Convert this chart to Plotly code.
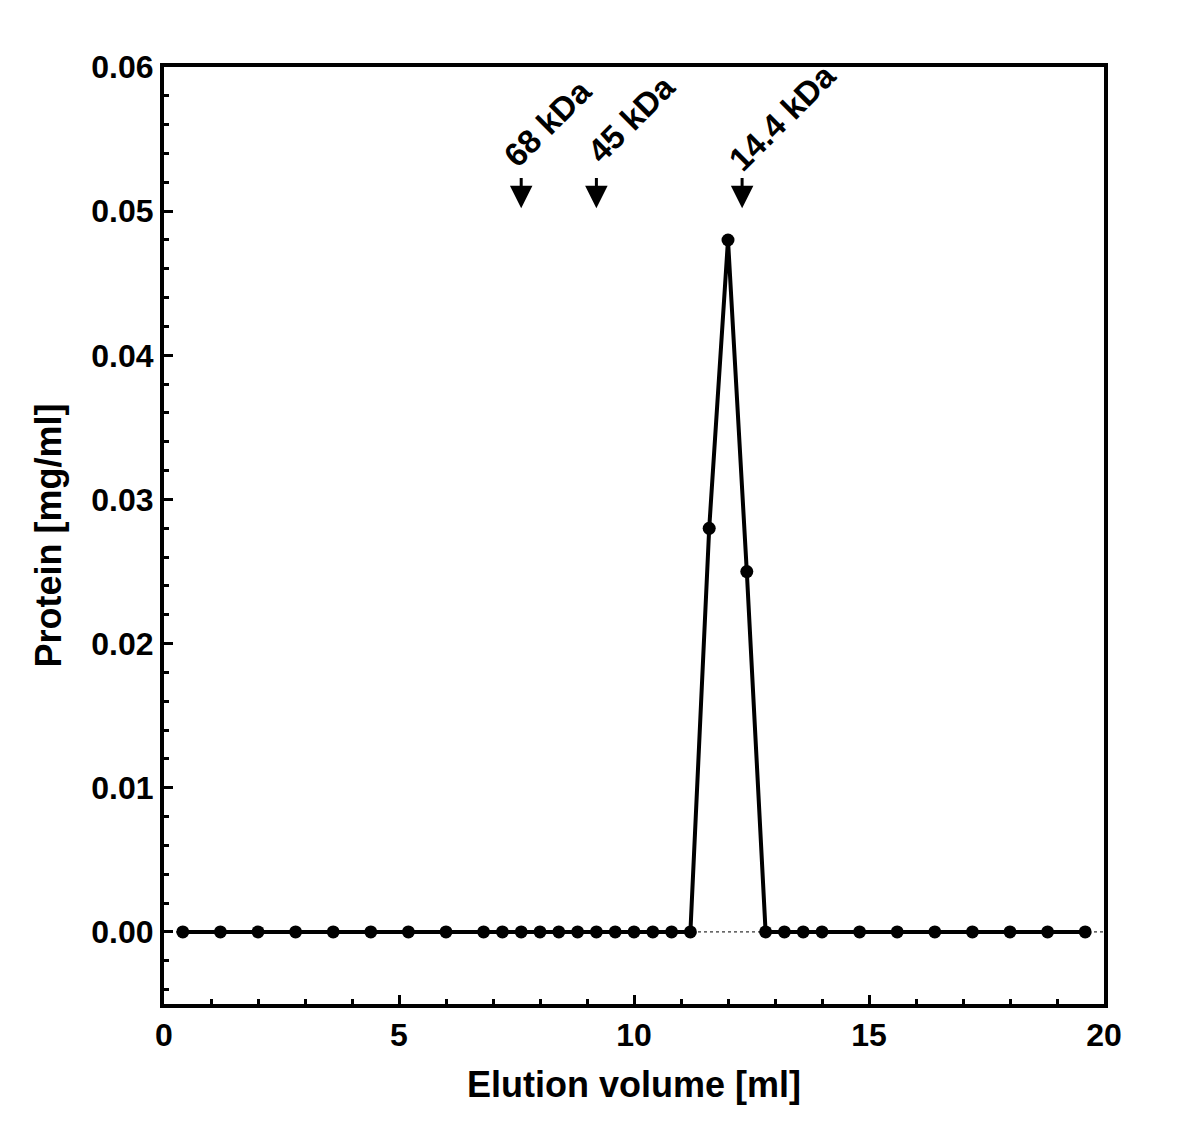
import plotly.graph_objects as go

# elution profile (ml vs mg/ml)
volume = [0.4, 1.2, 2.0, 2.8, 3.6, 4.4, 5.2, 6.0, 6.8, 7.2, 7.6, 8.0, 8.4, 8.8,
          9.2, 9.6, 10.0, 10.4, 10.8, 11.2, 11.6, 12.0, 12.4, 12.8, 13.2, 13.6,
          14.0, 14.8, 15.6, 16.4, 17.2, 18.0, 18.8, 19.6]
protein = [0, 0, 0, 0, 0, 0, 0, 0, 0, 0, 0, 0, 0, 0,
           0, 0, 0, 0, 0, 0, 0.028, 0.048, 0.025, 0, 0, 0,
           0, 0, 0, 0, 0, 0, 0, 0]

# molecular weight markers
marker_labels = ["68 kDa", "45 kDa", "14.4 kDa"]
marker_volume = [7.6, 9.2, 12.3]
label_x = [8.15, 9.95, 13.15]
label_y = [0.0561, 0.0564, 0.0565]

FONT = "Liberation Sans, Arial, sans-serif"

fig = go.Figure()
fig.add_trace(go.Scatter(
    x=volume, y=protein, mode="lines+markers",
    line=dict(color="black", width=4),
    marker=dict(color="black", size=13),
    showlegend=False,
))

# dotted baseline at zero
fig.add_shape(type="line", xref="x", yref="y", x0=0, x1=20, y0=0, y1=0,
              line=dict(color="black", width=1, dash="dot"), layer="below")

for lab, xv, lx, ly in zip(marker_labels, marker_volume, label_x, label_y):
    fig.add_annotation(x=xv, y=0.0502, ax=xv, ay=0.0524, axref="x", ayref="y",
                       text="", showarrow=True, arrowhead=2, arrowsize=1.5,
                       arrowwidth=3, arrowcolor="black")
    fig.add_annotation(x=lx, y=ly, text="<b>%s</b>" % lab, showarrow=False,
                       textangle=-45, font=dict(family=FONT, size=33, color="black"))

axis_common = dict(
    showline=True, linecolor="black", linewidth=4, mirror=True,
    ticks="inside", tickwidth=3, tickcolor="black", ticklen=9,
    showgrid=False, zeroline=False,
    tickfont=dict(family=FONT, size=32, color="black"),
)

fig.update_xaxes(
    range=[0, 20], tick0=0, dtick=5,
    minor=dict(ticks="inside", dtick=1, ticklen=5, tickwidth=3, tickcolor="black"),
    title=dict(text="<b>Elution volume [ml]</b>", font=dict(family=FONT, size=36, color="black"),
               standoff=20),
    tickprefix="<b>", ticksuffix="</b>",
    **axis_common,
)
fig.update_yaxes(
    range=[-0.005, 0.06], tick0=0, dtick=0.01, tickformat=".2f",
    minor=dict(ticks="inside", dtick=0.002, ticklen=5, tickwidth=3, tickcolor="black"),
    title=dict(text="<b>Protein [mg/ml]</b>", font=dict(family=FONT, size=36, color="black"),
               standoff=20),
    tickprefix="<b>", ticksuffix="</b>",
    **axis_common,
)

fig.update_layout(
    width=1200, height=1139,
    margin=dict(l=156, r=104, t=59, b=143, autoexpand=False),
    plot_bgcolor="white", paper_bgcolor="white",
)

fig.write_html("out.html")
